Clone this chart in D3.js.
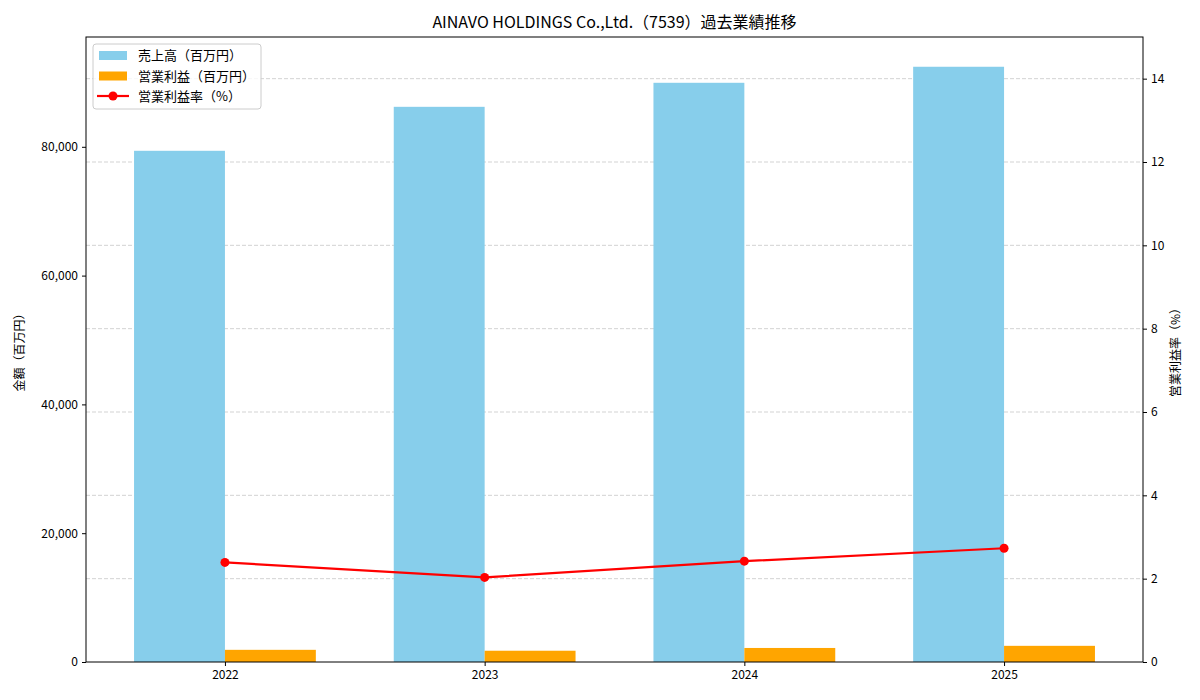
<!DOCTYPE html>
<html>
<head>
<meta charset="utf-8">
<script src="https://cdn.jsdelivr.net/npm/d3@7"></script>
<style>
  body { margin: 0; background: #fff; }
  svg { font-family: "Noto Sans CJK JP", "DejaVu Sans", sans-serif; }
</style>
</head>
<body>
<svg id="chart" width="1200" height="700"></svg>
<script>
const years = ["2022", "2023", "2024", "2025"];
const sales = [79380, 86210, 89940, 92430];
const opProfit = [1890, 1750, 2180, 2510];
const opMargin = [2.39, 2.03, 2.42, 2.73];
const leftTicks = [0, 20000, 40000, 60000, 80000];
const rightTicks = [0, 2, 4, 6, 8, 10, 12, 14];

const blue = "#87ceeb",
  orange = "#ffa500",
  red = "red";

const svg = d3.select("#chart");
const plotL = 86, plotR = 1143, plotT = 37, plotB = 662;
const barW = 0.35;

// scales
const xScale = d3.scaleLinear().domain([-0.535, 3.535]).range([plotL, plotR]);
const yScale = d3.scaleLinear().domain([0, d3.max(sales) * 1.05]).range([plotB, plotT]);
const y2Scale = d3.scaleLinear().domain([0, 15]).range([plotB, plotT]);

// grid (from right axis)
svg.append("g")
  .selectAll("line")
  .data(rightTicks.slice(1))
  .join("line")
  .attr("x1", plotL).attr("x2", plotR)
  .attr("y1", d => y2Scale(d)).attr("y2", d => y2Scale(d))
  .attr("stroke", "#b0b0b0")
  .attr("stroke-opacity", 0.7)
  .attr("stroke-dasharray", "4,2")
  .attr("stroke-width", 0.8);

// bars
svg.append("g")
  .selectAll("rect")
  .data(sales)
  .join("rect")
  .attr("x", (d, i) => xScale(i - barW))
  .attr("width", (d, i) => xScale(i) - xScale(i - barW))
  .attr("y", d => yScale(d))
  .attr("height", d => plotB - yScale(d))
  .attr("fill", blue);

svg.append("g")
  .selectAll("rect")
  .data(opProfit)
  .join("rect")
  .attr("x", (d, i) => xScale(i))
  .attr("width", (d, i) => xScale(i + barW) - xScale(i))
  .attr("y", d => yScale(d))
  .attr("height", d => plotB - yScale(d))
  .attr("fill", orange);

// line
const line = d3.line()
  .x((d, i) => xScale(i))
  .y(d => y2Scale(d));

svg.append("path")
  .datum(opMargin)
  .attr("d", line)
  .attr("fill", "none")
  .attr("stroke", red)
  .attr("stroke-width", 2.2);

svg.append("g")
  .selectAll("circle")
  .data(opMargin)
  .join("circle")
  .attr("cx", (d, i) => xScale(i))
  .attr("cy", d => y2Scale(d))
  .attr("r", 4.5)
  .attr("fill", red);

// axes
const xAxis = d3.axisBottom(xScale)
  .tickValues(d3.range(years.length))
  .tickFormat(i => years[i])
  .tickSize(4).tickPadding(4);
const yAxis = d3.axisLeft(yScale)
  .tickValues(leftTicks)
  .tickFormat(d3.format(","))
  .tickSize(4).tickPadding(4);
const y2Axis = d3.axisRight(y2Scale)
  .tickValues(rightTicks)
  .tickSize(4).tickPadding(4);

const gx = svg.append("g").attr("transform", `translate(0,${plotB})`).call(xAxis);
const gy = svg.append("g").attr("transform", `translate(${plotL},0)`).call(yAxis);
const gy2 = svg.append("g").attr("transform", `translate(${plotR},0)`).call(y2Axis);

[gx, gy, gy2].forEach(g => {
  g.select("path.domain").remove();
  g.selectAll("text").attr("font-size", 12).attr("fill", "#000")
    .style("font-family", "'Noto Sans CJK JP', sans-serif");
  g.selectAll("line").attr("stroke", "#000");
});

// frame
svg.append("rect")
  .attr("x", plotL).attr("y", plotT)
  .attr("width", plotR - plotL).attr("height", plotB - plotT)
  .attr("fill", "none").attr("stroke", "#000").attr("stroke-width", 1);

// titles
svg.append("text")
  .attr("x", (plotL + plotR) / 2).attr("y", 28)
  .attr("text-anchor", "middle")
  .attr("font-size", 16)
  .text("AINAVO HOLDINGS Co.,Ltd.（7539）過去業績推移");

svg.append("text")
  .attr("transform", `translate(24,${(plotT + plotB) / 2}) rotate(-90)`)
  .attr("text-anchor", "middle")
  .attr("font-size", 12)
  .text("金額（百万円）");

svg.append("text")
  .attr("transform", `translate(1180,${(plotT + plotB) / 2}) rotate(-90)`)
  .attr("text-anchor", "middle")
  .attr("font-size", 12)
  .text("営業利益率（%）");

// legend
const legend = svg.append("g").attr("transform", "translate(93,44)");
legend.append("rect")
  .attr("width", 168).attr("height", 65).attr("rx", 3)
  .attr("fill", "#fff").attr("fill-opacity", 0.8)
  .attr("stroke", "#ccc");

const items = [
  { label: "売上高（百万円）", type: "bar", color: blue },
  { label: "営業利益（百万円）", type: "bar", color: orange },
  { label: "営業利益率（%）", type: "line", color: red }
];
items.forEach((it, i) => {
  const g = legend.append("g").attr("transform", `translate(0,${11 + i * 20.5})`);
  if (it.type === "bar") {
    g.append("rect").attr("x", 6).attr("y", -4).attr("width", 28).attr("height", 9).attr("fill", it.color);
  } else {
    g.append("line").attr("x1", 4).attr("x2", 36).attr("stroke", it.color).attr("stroke-width", 2.2);
    g.append("circle").attr("cx", 20).attr("r", 4.5).attr("fill", it.color);
  }
  g.append("text").attr("x", 45).attr("y", 5).attr("font-size", 13).text(it.label);
});
</script>
</body>
</html>
